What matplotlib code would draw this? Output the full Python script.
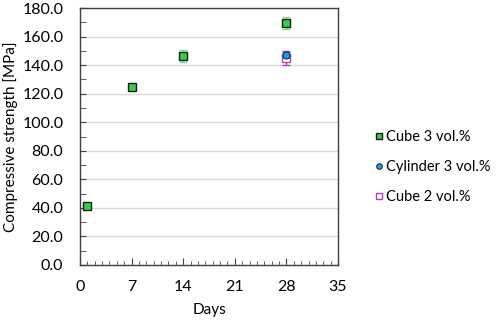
import matplotlib
matplotlib.use('Agg')
import matplotlib.pyplot as plt
from matplotlib.ticker import MultipleLocator

plt.rcParams['font.family'] = ['Lato', 'DejaVu Sans']

# データ
days_cube3 = [1, 7, 14, 28]
strength_cube3 = [41.5, 125.0, 146.5, 169.3]
err_cube3 = [1.0, 1.5, 4.4, 4.2]

days_cyl3 = [28]
strength_cyl3 = [147.2]
err_cyl3 = [2.0]

days_cube2 = [28]
strength_cube2 = [145.1]
err_cube2 = [5.0]

x_ticks = [0, 7, 14, 21, 28, 35]
y_ticks = [0, 20, 40, 60, 80, 100, 120, 140, 160, 180]

fig = plt.figure(figsize=(4.98, 3.26), dpi=100)
ax = fig.add_axes([80 / 498, 1 - 265 / 326, 258 / 498, 257 / 326])

ax.errorbar(days_cube3, strength_cube3, yerr=err_cube3, fmt='s', color='#3ccb4b',
            markerfacecolor='#3ccb4b', markeredgecolor='#1a1a1a', markeredgewidth=1.0,
            markersize=6, ecolor='#7fdc86', elinewidth=1.0, capsize=3,
            label='Cube 3 vol.%', zorder=3)
ax.errorbar(days_cube2, strength_cube2, yerr=err_cube2, fmt='s', color='#b13fb5',
            markerfacecolor='white', markeredgecolor='#b13fb5', markeredgewidth=1.0,
            markersize=6, ecolor='#b13fb5', elinewidth=1.0, capsize=3,
            label='Cube 2 vol.%', zorder=3)
ax.errorbar(days_cyl3, strength_cyl3, yerr=err_cyl3, fmt='o', color='#1ba1e2',
            markerfacecolor='#1ba1e2', markeredgecolor='#1f2a44', markeredgewidth=0.8,
            markersize=5, ecolor='#1ba1e2', elinewidth=1.0, capsize=3,
            label='Cylinder 3 vol.%', zorder=4)

ax.set_xlim(0, 35)
ax.set_ylim(0, 180)
ax.set_xticks(x_ticks)
ax.set_yticks(y_ticks)
ax.set_yticklabels([f'{v:.1f}' for v in y_ticks])
ax.xaxis.set_minor_locator(MultipleLocator(1))
ax.yaxis.set_minor_locator(MultipleLocator(10))
ax.tick_params(axis='both', which='both', direction='in', colors='#404040',
               labelcolor='black', labelsize=11.5)
ax.tick_params(axis='x', which='major', length=5, pad=11)
ax.tick_params(axis='x', which='minor', length=3)
ax.tick_params(axis='y', which='major', length=4, pad=12)
ax.tick_params(axis='y', which='minor', length=4)
ax.grid(axis='y', which='major', color='#d9d9d9', linewidth=1.0, zorder=0)
ax.set_axisbelow(True)
for s in ax.spines.values():
    s.set_color('#404040')
    s.set_linewidth(1.0)

ax.set_xlabel('Days', fontsize=11, labelpad=6)
ax.set_ylabel('Compressive strength [MPa]', fontsize=11, labelpad=3)

handles, labels = ax.get_legend_handles_labels()
order = [0, 2, 1]
leg = fig.legend([handles[i][0] for i in order], [labels[i] for i in order],
                 loc='center left', bbox_to_anchor=(366 / 498, 1 - 167 / 326),
                 frameon=False, fontsize=10.5, handletextpad=0.1,
                 labelspacing=1.1, handlelength=0.8, borderpad=0,
                 markerscale=0.8)

fig.savefig('out.png', dpi=100)
